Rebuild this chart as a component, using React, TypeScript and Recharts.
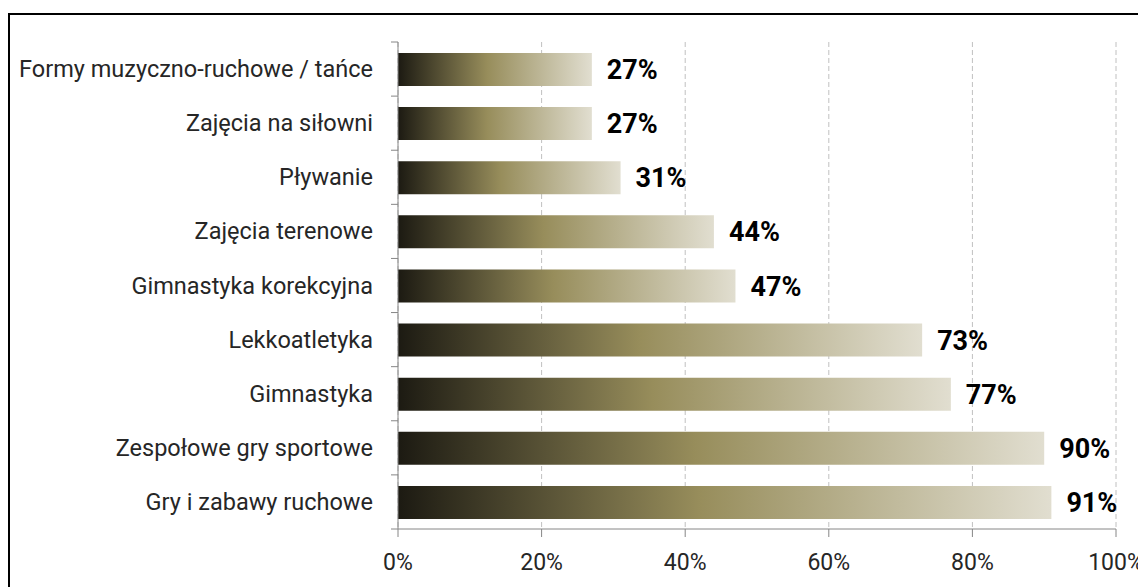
import React from "react";
import { BarChart, Bar, XAxis, YAxis, CartesianGrid, LabelList } from "recharts";

const categories = [
  "Formy muzyczno-ruchowe / tańce",
  "Zajęcia na siłowni",
  "Pływanie",
  "Zajęcia terenowe",
  "Gimnastyka korekcyjna",
  "Lekkoatletyka",
  "Gimnastyka",
  "Zespołowe gry sportowe",
  "Gry i zabawy ruchowe",
];
const percents = [27, 27, 31, 44, 47, 73, 77, 90, 91];
const xTicks = [0, 20, 40, 60, 80, 100];

const data = categories.map((name, i) => ({ name, value: percents[i] }));

const FONT = "Roboto, 'Open Sans', sans-serif";
const CHART_W = 1136;
const CHART_H = 572;
const MARGIN = { top: 27, right: 30, bottom: 28, left: 0 };
const X_AXIS_H = 30;
const Y_AXIS_W = 388;
const LABEL_GAP = 25;
const PLOT_H = CHART_H - MARGIN.top - MARGIN.bottom - X_AXIS_H;
const BAND = PLOT_H / categories.length;

// category labels, with tick marks at the band edges (not the centres)
const CategoryTick = (props: any) => {
  const { x, y, payload, index } = props;
  const axisX = x + LABEL_GAP;
  const last = index === categories.length - 1;
  return (
    <g>
      <line x1={axisX - 7} x2={axisX} y1={y - BAND / 2} y2={y - BAND / 2} stroke="#868686" />
      {last && (
        <line x1={axisX - 7} x2={axisX} y1={y + BAND / 2} y2={y + BAND / 2} stroke="#868686" />
      )}
      <text
        x={x}
        y={y}
        textAnchor="end"
        dominantBaseline="central"
        fontSize={23.5}
        fontFamily={FONT}
        fill="#262626"
      >
        {payload.value}
      </text>
    </g>
  );
};

export default function App() {
  return (
    <div style={{ paddingTop: 5 }}>
      <style>{"html{overflow:hidden}"}</style>
      <div
        style={{
          borderTop: "2px solid #000",
          borderLeft: "2px solid #000",
          width: CHART_W,
          height: CHART_H,
          background: "#fff",
        }}
      >
        <BarChart
          width={CHART_W}
          height={CHART_H}
          data={data}
          layout="vertical"
          margin={MARGIN}
          barSize={33}
          style={{ overflow: "visible" }}
        >
          <defs>
            <linearGradient id="barGrad" x1="0" y1="0" x2="1" y2="0">
              <stop offset="0%" stopColor="#1c1a12" />
              <stop offset="46%" stopColor="#978d5b" />
              <stop offset="100%" stopColor="#e1ded0" />
            </linearGradient>
          </defs>
          <CartesianGrid horizontal={false} stroke="#c0c0c0" strokeDasharray="5 3" />
          <XAxis
            type="number"
            domain={[0, 100]}
            ticks={xTicks}
            tickFormatter={(v: number) => `${v}%`}
            height={X_AXIS_H}
            stroke="#868686"
            tickSize={8}
            tickMargin={17}
            tick={{ fontSize: 23, fontFamily: FONT, fill: "#262626" }}
            interval={0}
          />
          <YAxis
            type="category"
            dataKey="name"
            width={Y_AXIS_W}
            stroke="#868686"
            tickLine={false}
            tickSize={0}
            tickMargin={LABEL_GAP}
            tick={<CategoryTick />}
            interval={0}
          />
          <Bar dataKey="value" fill="url(#barGrad)" isAnimationActive={false}>
            <LabelList
              dataKey="value"
              position="right"
              offset={15}
              formatter={(v: number) => `${v}%`}
              style={{ fontSize: 27, fontWeight: 700, fontFamily: FONT, fill: "#000" }}
            />
          </Bar>
        </BarChart>
      </div>
    </div>
  );
}
